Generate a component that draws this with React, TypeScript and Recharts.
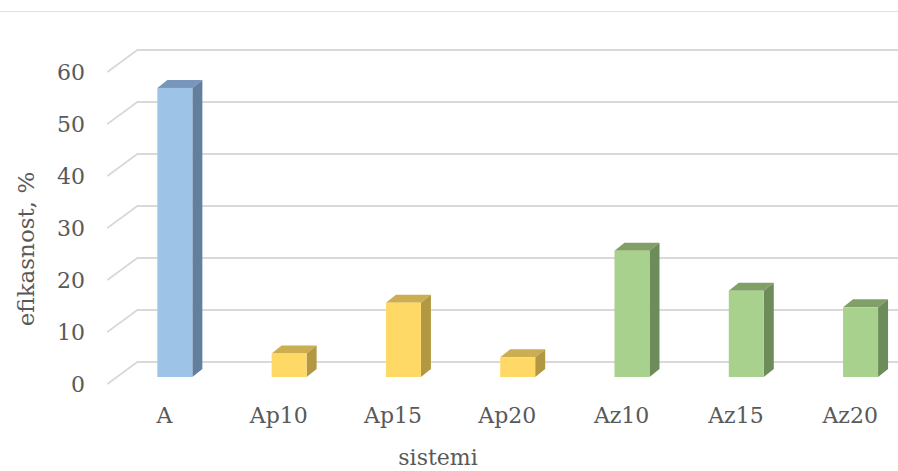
import { BarChart, Bar, XAxis, YAxis, CartesianGrid } from "recharts"

const categories = ["A", "Ap10", "Ap15", "Ap20", "Az10", "Az15", "Az20"]
const efikasnost = [55.6, 4.5, 14.3, 3.8, 24.3, 16.6, 13.4]
const yTicks = [0, 10, 20, 30, 40, 50, 60]

const data = categories.map((name, i) => ({ name, value: efikasnost[i] }))

// front / side / top shades per group
const palette: Record<string, string[]> = {
  A: ["#9dc3e6", "#637f9e", "#7896b9"],
  Ap: ["#ffd966", "#b29842", "#ccae52"],
  Az: ["#a9d18e", "#6d8c59", "#80a068"],
}

const font = "'DejaVu Serif', serif"
const textColor = "#595959"
const DX = 10
const DY = 8

const groupOf = (name: string) => (name.startsWith("Ap") ? "Ap" : name.startsWith("Az") ? "Az" : "A")

const Bar3D = (props: any) => {
  const { x, y, width, height, payload } = props
  const [front, side, top] = palette[groupOf(payload.name)]
  const r = x + width
  const b = y + height
  return (
    <g>
      <polygon points={`${x},${y} ${x + DX},${y - DY} ${r + DX},${y - DY} ${r},${y}`} fill={top} />
      <polygon points={`${r},${y} ${r + DX},${y - DY} ${r + DX},${b - DY} ${r},${b}`} fill={side} />
      <rect x={x} y={y} width={width} height={height} fill={front} />
    </g>
  )
}

const GridLine = (p: any) => (
  <polyline
    key={p.key}
    points={`${p.x1 - 10},${p.y1 + 7} ${p.x1 + 20},${p.y1 - 15} ${p.x2 + 20},${p.y2 - 15}`}
    fill="none"
    stroke="#d9d9d9"
    strokeWidth={1.8}
  />
)

const XTick = (p: any) => (
  <text x={p.x - 10} y={423} textAnchor="middle" fontFamily={font} fontSize={22} fill={textColor}>
    {p.payload.value}
  </text>
)

const YTick = (p: any) => (
  <text x={85} y={p.y + 15} textAnchor="end" fontFamily={font} fontSize={22} fill={textColor}>
    {p.payload.value}
  </text>
)

const App = () => {
  return (
    <div style={{ position: "fixed", left: 0, top: 0, width: 898, height: 471, overflow: "hidden", background: "#fff" }}>
      <div style={{ position: "absolute", left: 0, top: 11, width: 898, borderTop: "1.5px solid #e0e0e0" }} />
      <div style={{ position: "absolute", left: 0, top: 0 }}>
        <BarChart width={930} height={471} data={data} margin={{ top: 65, right: 12.65, bottom: 0, left: 0.35 }}>
          <CartesianGrid vertical={false} horizontal={GridLine} />
          <XAxis
            dataKey="name"
            axisLine={false}
            tickLine={false}
            height={94}
            tick={XTick}
            label={() => (
              <text x={438} y={465} textAnchor="middle" fontFamily={font} fontSize={22} fill={textColor}>
                sistemi
              </text>
            )}
          />
          <YAxis
            width={117}
            domain={[0, 60]}
            ticks={yTicks}
            axisLine={false}
            tickLine={false}
            tick={YTick}
            label={() => (
              <text
                x={34}
                y={249}
                transform="rotate(-90 34 249)"
                textAnchor="middle"
                fontFamily={font}
                fontSize={23}
                fill={textColor}
              >
                efikasnost, %
              </text>
            )}
          />
          <Bar dataKey="value" barSize={35} shape={Bar3D} isAnimationActive={false} />
        </BarChart>
      </div>
    </div>
  )
}

export default App
